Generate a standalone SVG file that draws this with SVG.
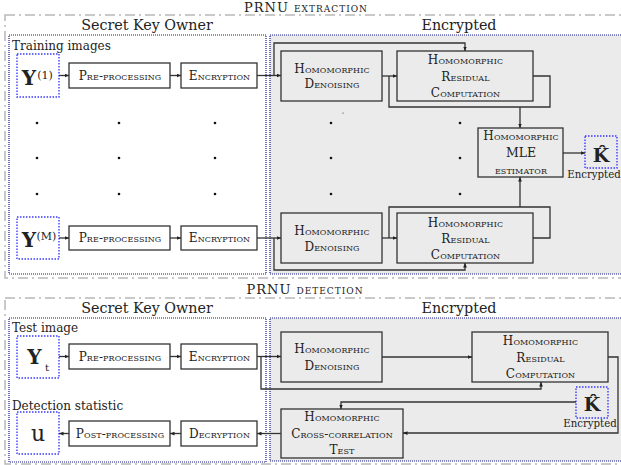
<svg xmlns="http://www.w3.org/2000/svg" width="621" height="465" viewBox="0 0 621 465" font-family="DejaVu Serif, serif">
<style>
text{font-family:"DejaVu Serif","Liberation Serif",serif;fill:#222}
.outer{fill:none;stroke:#b8b8b8;stroke-width:1.5;stroke-dasharray:10 4 2 4}
.zone{stroke:#1a1a8c;stroke-width:1.2;stroke-dasharray:1 1}
.enc{fill:#ebebeb}
.skz{fill:#ffffff}
.var{fill:none;stroke:#3a3aff;stroke-width:1.4;stroke-dasharray:1.5 1.5}
.box{fill:#ffffff;stroke:#333;stroke-width:1.3}
.hbox{fill:#ebebeb;stroke:#333;stroke-width:1.3}
.sc{font-variant:small-caps;font-size:12px;letter-spacing:0.1px;text-anchor:middle}
.title{font-size:14.3px;text-anchor:middle}
.ptitle{font-size:13px;letter-spacing:1px;text-anchor:middle}
.label{font-size:12px}
.small{font-size:10.2px;text-anchor:middle}
.bold{font-weight:bold;text-anchor:middle}
.dot{fill:#111}
#connectors path{fill:none;stroke:#333;stroke-width:1.3}
#connectors path.a{marker-end:url(#arr)}
</style>
<defs>
<marker id="arr" viewBox="0 0 6 6" refX="6" refY="3" markerWidth="4.5" markerHeight="4.5" markerUnits="userSpaceOnUse" orient="auto"><path d="M0,0.5 L6,3 L0,5.5 z" fill="#222"/></marker>
</defs>

<!-- ===== PRNU extraction ===== -->
<g id="extraction-frame">
<rect class="outer" x="5" y="15" width="620" height="263"/>
<text class="ptitle" x="306" y="12">PRNU <tspan style="font-variant:small-caps">extraction</tspan></text>
<rect class="zone skz" x="9" y="35" width="257" height="239"/>
<rect class="zone enc" x="270" y="35" width="360" height="239"/>
<text class="title" x="147" y="29.5">Secret Key Owner</text>
<text class="title" x="459" y="29.5">Encrypted</text>
<text class="label" x="12" y="50">Training images</text>
</g>

<g id="Y1"><rect class="var" x="17" y="54" width="42" height="43"/><text class="bold" x="29" y="85" font-size="20">Y</text><text x="45" y="79" font-size="11" text-anchor="middle">(1)</text></g>
<g id="pre1"><rect class="box" x="69" y="63" width="101" height="25"/><text class="sc" x="120" y="80">Pre-processing</text></g>
<g id="enc1"><rect class="box" x="181" y="63" width="76" height="25"/><text class="sc" x="219.5" y="80">Encryption</text></g>
<g id="den1"><rect class="hbox" x="281" y="51" width="101" height="50"/><text class="sc" x="332" y="73">Homomorphic</text><text class="sc" x="332" y="88">Denoising</text></g>
<g id="res1"><rect class="hbox" x="397" y="51" width="136" height="50"/><text class="sc" x="465.5" y="64">Homomorphic</text><text class="sc" x="465.5" y="81">Residual</text><text class="sc" x="465.5" y="97">Computation</text></g>
<g id="mle"><rect class="hbox" x="478" y="128" width="85" height="49"/><text class="sc" x="521" y="140">Homomorphic</text><text x="521" y="157" font-size="12.5" text-anchor="middle">MLE</text><text class="sc" x="521" y="174">estimator</text></g>
<g id="K1"><rect class="var" x="585" y="136" width="32" height="32"/><text class="bold" x="601" y="162" font-size="19">K&#x302;</text><text class="small" x="594" y="178">Encrypted</text></g>

<g id="YM"><rect class="var" x="17" y="217" width="42" height="42"/><text class="bold" x="29" y="247" font-size="20">Y</text><text x="46.5" y="240" font-size="11" text-anchor="middle">(M)</text></g>
<g id="preM"><rect class="box" x="69" y="226" width="101" height="24"/><text class="sc" x="120" y="242">Pre-processing</text></g>
<g id="encM"><rect class="box" x="181" y="226" width="76" height="24"/><text class="sc" x="219.5" y="242">Encryption</text></g>
<g id="denM"><rect class="hbox" x="281" y="213" width="101" height="50"/><text class="sc" x="332" y="235">Homomorphic</text><text class="sc" x="332" y="251">Denoising</text></g>
<g id="resM"><rect class="hbox" x="397" y="213" width="136" height="50"/><text class="sc" x="465.5" y="227">Homomorphic</text><text class="sc" x="465.5" y="243">Residual</text><text class="sc" x="465.5" y="259">Computation</text></g>

<g id="dots">
<circle class="dot" cx="37" cy="123" r="1.3"/><circle class="dot" cx="119" cy="123" r="1.3"/><circle class="dot" cx="215" cy="123" r="1.3"/>
<circle class="dot" cx="37" cy="158" r="1.3"/><circle class="dot" cx="119" cy="158" r="1.3"/><circle class="dot" cx="215" cy="158" r="1.3"/>
<circle class="dot" cx="37" cy="194" r="1.3"/><circle class="dot" cx="119" cy="194" r="1.3"/><circle class="dot" cx="215" cy="194" r="1.3"/>
<circle class="dot" cx="331" cy="123" r="1.3"/><circle class="dot" cx="460" cy="123" r="1.3"/>
<circle class="dot" cx="331" cy="158" r="1.3"/><circle class="dot" cx="460" cy="158" r="1.3"/>
<circle class="dot" cx="331" cy="194" r="1.3"/><circle class="dot" cx="460" cy="194" r="1.3"/>
<circle class="dot" cx="343" cy="113" r="0.5"/>
</g>

<!-- ===== PRNU detection ===== -->
<g id="detection-frame">
<rect class="outer" x="5" y="298" width="620" height="166"/>
<text class="ptitle" x="305" y="294">PRNU <tspan style="font-variant:small-caps">detection</tspan></text>
<rect class="zone skz" x="9" y="318" width="257" height="144"/>
<rect class="zone enc" x="270" y="318" width="360" height="143"/>
<text class="title" x="147" y="313">Secret Key Owner</text>
<text class="title" x="459" y="313">Encrypted</text>
<text class="label" x="12" y="332">Test image</text>
<text class="label" x="12" y="410">Detection statistic</text>
</g>

<g id="Yt"><rect class="var" x="17" y="336" width="42" height="42"/><text class="bold" x="34.5" y="364" font-size="20">Y</text><text x="47" y="371" font-size="10" text-anchor="middle">t</text></g>
<g id="preT"><rect class="box" x="69" y="344" width="101" height="25"/><text class="sc" x="120" y="360.5">Pre-processing</text></g>
<g id="encT"><rect class="box" x="181" y="344" width="76" height="25"/><text class="sc" x="219.5" y="360.5">Encryption</text></g>
<g id="denT"><rect class="hbox" x="281" y="332" width="101" height="50"/><text class="sc" x="332" y="353">Homomorphic</text><text class="sc" x="332" y="370">Denoising</text></g>
<g id="resT"><rect class="hbox" x="472" y="332" width="136" height="50"/><text class="sc" x="540.5" y="345">Homomorphic</text><text class="sc" x="540.5" y="362">Residual</text><text class="sc" x="540.5" y="378">Computation</text></g>
<g id="K2"><rect class="var" x="576" y="387" width="32" height="31"/><text class="bold" x="592" y="411" font-size="19">K&#x302;</text><text class="small" x="590" y="427">Encrypted</text></g>
<g id="xcorr"><rect class="hbox" x="281" y="409" width="122" height="49"/><text class="sc" x="342" y="421">Homomorphic</text><text class="sc" x="342" y="438">Cross-correlation</text><text class="sc" x="342" y="454">Test</text></g>
<g id="dec"><rect class="box" x="181" y="421" width="76" height="25"/><text class="sc" x="219.5" y="437.5">Decryption</text></g>
<g id="post"><rect class="box" x="69" y="421" width="101" height="25"/><text class="sc" x="120" y="437.5">Post-processing</text></g>
<g id="u"><rect class="var" x="17" y="412" width="42" height="42"/><text x="38" y="441" font-size="22" text-anchor="middle">u</text></g>

<g id="connectors">
<path class="a" d="M59,75.5 H69"/>
<path class="a" d="M170,75.5 H181"/>
<path class="a" d="M257,75.5 H281"/>
<path class="a" d="M274,75.5 V43 H465 V51"/>
<path class="a" d="M382,76 H397"/>
<path d="M533,76 H550 V107 H389 V76"/>
<path class="a" d="M520,107 V128"/>
<path class="a" d="M563,153 H585"/>

<path class="a" d="M59,238 H69"/>
<path class="a" d="M170,238 H181"/>
<path class="a" d="M257,238 H281"/>
<path class="a" d="M274,238 V270 H465 V263"/>
<path class="a" d="M382,238 H397"/>
<path d="M533,238 H550 V207 H389 V238"/>
<path class="a" d="M520,207 V177"/>

<path class="a" d="M59,356.5 H69"/>
<path class="a" d="M170,356.5 H181"/>
<path class="a" d="M257,356.5 H281"/>
<path class="a" d="M261,356.5 V389 H541 V382"/>
<path class="a" d="M382,357 H472"/>
<path class="a" d="M608,357 H618 V433 H403"/>
<path class="a" d="M576,402 H341 V409"/>
<path class="a" d="M281,433.5 H257"/>
<path class="a" d="M181,433.5 H170"/>
<path class="a" d="M69,433.5 H59"/>
</g>
</svg>
